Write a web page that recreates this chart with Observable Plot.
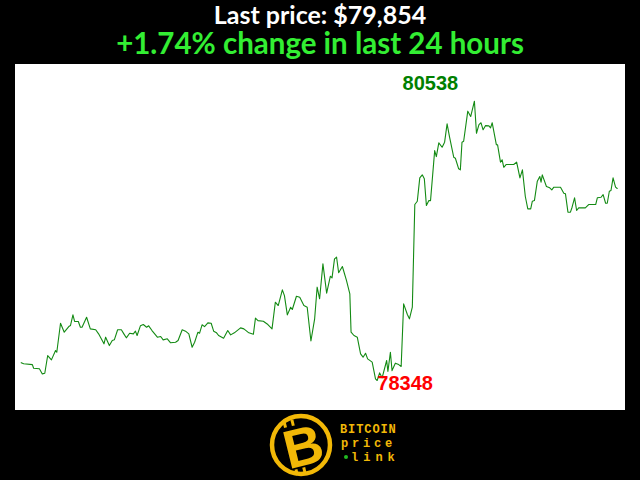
<!DOCTYPE html>
<html>
<head>
<meta charset="utf-8">
<script src="https://cdn.jsdelivr.net/npm/d3@7"></script>
<script src="https://cdn.jsdelivr.net/npm/@observablehq/plot@0.6"></script>
<style>
  html, body { margin: 0; padding: 0; background: #000; }
  #page { position: relative; width: 640px; height: 480px; background: #000; overflow: hidden; }
  #title { position: absolute; left: 0; width: 640px; top: 2px; text-align: center; color: #fff;
    font-family: Lato, "Open Sans", sans-serif; font-weight: 700; font-size: 25px; line-height: 25px; }
  #subtitle { position: absolute; left: 0; width: 640px; top: 28px; text-align: center; color: #33ee33;
    font-family: Lato, "Open Sans", sans-serif; font-weight: 700; font-size: 29.5px; line-height: 30px; }
  #chart { position: absolute; left: 15px; top: 64px; width: 610px; height: 346px; background: #fff; }
  #logo { position: absolute; left: 260px; top: 408px; }
</style>
</head>
<body>
<div id="page">
  <div id="title"></div>
  <div id="subtitle"></div>
  <div id="chart"></div>
  <svg id="logo" width="160" height="72" viewBox="0 0 160 72">
    <circle cx="41" cy="37" r="29" fill="#000" stroke="#f2b807" stroke-width="4.5"/>
    <g transform="translate(43,38) rotate(-14)">
      <text x="0" y="0" text-anchor="middle" dominant-baseline="central" fill="#f2b807"
        font-family="Liberation Sans, Arial, sans-serif" font-weight="700" font-size="54">B</text>
      <rect x="-14" y="-28" width="3" height="6" fill="#f2b807"/>
      <rect x="-6" y="-28" width="3" height="6" fill="#f2b807"/>
      <rect x="-14" y="21" width="3" height="6" fill="#f2b807"/>
      <rect x="-6" y="21" width="3" height="6" fill="#f2b807"/>
    </g>
    <text x="80" y="25" fill="#f2b807" font-family="Liberation Mono, monospace" font-weight="700" font-size="12" letter-spacing="0.9">BITCOIN</text>
    <text x="81" y="39" fill="#f2b807" font-family="Liberation Mono, monospace" font-weight="700" font-size="12" letter-spacing="3.8">price</text>
    <circle cx="86" cy="49" r="2" fill="#22bb22"/>
    <text x="91" y="53" fill="#f2b807" font-family="Liberation Mono, monospace" font-weight="700" font-size="12" letter-spacing="5">link</text>
  </svg>
</div>
<script>
// minutes since the start of the 24-hour window
const times = [0,6,27,30,44,51,57,64,73,83,86,95,99,104,115,119,125,129,138,143,147,158,167,180,187,200,204,213,220,225,
233,242,248,254,262,271,276,280,288,295,303,308,316,329,337,343,353,361,373,379,389,397,405,413,419,427,431,437,443,451,459,465,
472,477,489,499,506,515,530,538,550,561,566,572,585,596,606,614,621,631,636,643,651,655,665,673,683,691,700,
709,715,721,729,738,747,751,757,762,767,776,786,794,797,804,812,820,826,832,837,848,856,860,866,872,883,886,892,896,904,912,918,924,933,938,945,951,
957,963,969,974,979,985,989,999,1003,1009,1017,1023,1029,1035,1045,1049,1057,1061,1065,1069,1079,1086,1095,1100,1106,1111,1116,1122,1130,1134,1138,1148,1151,1158,1162,1166,1172,1190,1197,
1205,1211,1218,1224,1231,1235,1240,1247,1253,1256,1259,1269,1277,1282,1287,1303,1311,1315,1321,1327,1331,1337,1342,1347,1363,1371,1388,1392,1401,1406,1412,1416,1421,1425,1430,1436,1440];

// BTC price (USD)
const prices = [78488,78479,78473,78444,78440,78400,78405,78544,78510,78583,78570,78797,78766,78727,78771,78779,78863,78811,78811,78766,78766,78844,78753,78746,78714,78636,78688,78622,78662,78667,
78746,78746,78714,78683,78719,78714,78735,78701,78777,78787,78766,78777,78740,78688,78693,78667,78675,78644,78648,78662,78746,78735,78714,78609,78648,78727,78719,78785,78771,78800,78797,78735,
78722,78701,78680,78740,78706,78722,78761,78753,78722,78711,78837,78818,78813,78787,78753,78962,78936,79059,79014,78863,78923,78905,79009,79001,78936,78923,78658,
78832,79080,78989,79263,79033,79166,79153,79302,79315,79193,79242,79132,79028,78727,78701,78688,78557,78531,78562,78518,78492,78361,78348,78408,78369,78505,78419,78570,78426,78484,78473,78458,78949,78866,78832,78923,79728,
79754,79937,79961,79930,79720,79759,79759,80151,80104,80212,80177,80217,80361,80256,80099,80091,80008,80000,80217,80224,80460,80418,80538,80287,80355,80369,80314,80347,80345,80329,80369,80198,80196,80060,80079,80020,80042,80042,80060,
79937,80000,79791,79694,79694,79754,79759,79911,79948,79903,79961,79869,79859,79843,79864,79864,79817,79812,79668,79668,79707,79781,79681,79702,79702,79728,79728,79781,79785,79806,79738,79738,79832,79838,79937,79864,79854];

const data = times.map((t, i) => ({t, p: prices[i]}));
const last = prices[prices.length - 1];
const first = prices[0];
const pct = (last - first) / first * 100;

document.getElementById("title").textContent = "Last price: $" + d3.format(",")(last);
document.getElementById("subtitle").textContent = (pct >= 0 ? "+" : "") + pct.toFixed(2) + "% change in last 24 hours";
document.getElementById("subtitle").style.color = pct >= 0 ? "#33ee33" : "#ff3333";

const maxPt = data[d3.maxIndex(data, d => d.p)];
const minPt = data[d3.minIndex(data, d => d.p)];

const chart = Plot.plot({
  width: 610,
  height: 346,
  marginLeft: 5.7,
  marginRight: 8.3,
  marginTop: 0,
  marginBottom: 0,
  style: {background: "#fff", overflow: "visible"},
  x: {domain: [0, 1440], axis: null},
  y: {domain: [78113, 80826], axis: null},
  marks: [
    Plot.line(data, {x: "t", y: "p", stroke: "#138a13", strokeWidth: 1.1}),
    Plot.text([maxPt], {x: "t", y: "p", text: d => String(d.p), dx: -44, dy: -18,
      fill: "#008000", fontSize: 20, fontWeight: "bold", fontFamily: "Liberation Sans, Arial, sans-serif"}),
    Plot.text([minPt], {x: "t", y: "p", text: d => String(d.p), dx: 28, dy: 3,
      fill: "#ff0000", fontSize: 20, fontWeight: "bold", fontFamily: "Liberation Sans, Arial, sans-serif"})
  ]
});
document.getElementById("chart").appendChild(chart);
</script>
</body>
</html>
